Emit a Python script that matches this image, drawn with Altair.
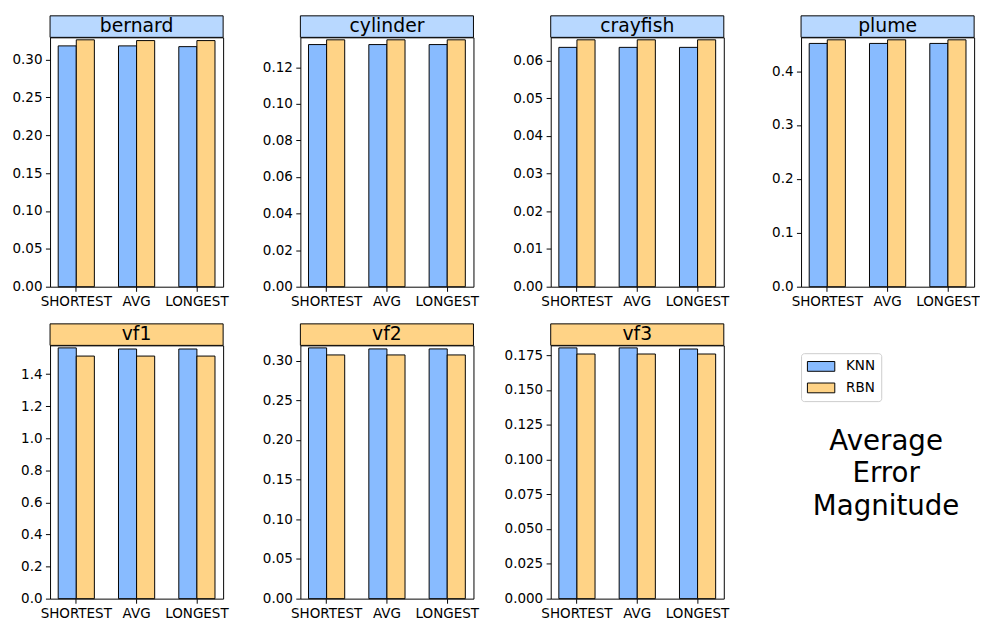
import altair as alt
import pandas as pd
import numpy as np

categories = ["SHORTEST", "AVG", "LONGEST"]
series_names = ["KNN", "RBN"]
datasets = ["bernard", "cylinder", "crayfish", "plume", "vf1", "vf2", "vf3"]
knn_values = [
    [0.318, 0.318, 0.317],
    [0.1324, 0.1324, 0.1324],
    [0.0635, 0.0635, 0.0635],
    [0.4514, 0.4514, 0.4514],
    [1.564, 1.557, 1.557],
    [0.3161, 0.3148, 0.3148],
    [0.1802, 0.1802, 0.1794],
]
rbn_values = [
    [0.326, 0.325, 0.325],
    [0.1350, 0.1350, 0.1350],
    [0.0655, 0.0655, 0.0655],
    [0.4581, 0.4581, 0.4581],
    [1.513, 1.513, 1.513],
    [0.3072, 0.3072, 0.3072],
    [0.1758, 0.1758, 0.1758],
]
tick_steps = [0.05, 0.02, 0.01, 0.1, 0.2, 0.05, 0.025]
tick_formats = [".2f", ".2f", ".2f", ".1f", ".1f", ".2f", ".3f"]
header_colors = ["#b8d8ff"] * 4 + ["#ffd386"] * 3
bar_colors = ["#88bbff", "#ffd386"]
side_text = "Average\nError\nMagnitude"

W, HB = 177, 22
H_TOP, H_BOTTOM = 255, 259

legend = alt.Legend(
    title=None, orient="none", legendX=768, legendY=323,
    symbolType="M-1,-0.714L3,-0.714L3,0.714L-1,0.714Z", symbolSize=196,
    symbolStrokeColor="black", symbolStrokeWidth=1,
    labelFontSize=13.8, labelOffset=25, labelColor="black", labelFont="DejaVu Sans",
    rowPadding=7, padding=6, fillColor="white", strokeColor="#cccccc",
    cornerRadius=3,
)


def panel(i, first_col, height):
    name = datasets[i]
    rows = []
    for j, c in enumerate(categories):
        rows.append({"category": c, "series": "KNN", "value": knn_values[i][j]})
        rows.append({"category": c, "series": "RBN", "value": rbn_values[i][j]})
    df = pd.DataFrame(rows)
    top = max(max(knn_values[i]), max(rbn_values[i])) * 1.01
    ticks = [float(v) for v in np.round(np.arange(0, top, tick_steps[i]), 6)]
    ext = 42 if first_col else 48
    bars = alt.Chart(df).mark_bar(stroke="black", strokeWidth=1).encode(
        x=alt.X("category:N", sort=categories,
                scale=alt.Scale(paddingInner=0.4, paddingOuter=0.135),
                axis=alt.Axis(title=None, labelAngle=0, labelOverlap=False,
                              minExtent=21, maxExtent=21)),
        xOffset=alt.XOffset("series:N", sort=series_names,
                            scale=alt.Scale(paddingInner=0, paddingOuter=0)),
        y=alt.Y("value:Q", scale=alt.Scale(domain=[0, top], nice=False, zero=True),
                axis=alt.Axis(title=None, values=ticks, format=tick_formats[i],
                              minExtent=ext, maxExtent=ext)),
        color=alt.Color("series:N",
                        scale=alt.Scale(domain=series_names, range=bar_colors),
                        legend=legend),
    )
    hdr = alt.Chart(alt.Data(values=[{"name": name}]))
    box = hdr.mark_rect(fill=header_colors[i], stroke="black", strokeWidth=1).encode(
        x=alt.value(0), x2=alt.value(W), y=alt.value(-HB), y2=alt.value(0))
    txt = hdr.mark_text(fontSize=19.2, baseline="middle", align="center",
                        color="black", font="DejaVu Sans").encode(
        x=alt.value(W / 2), y=alt.value(-HB / 2), text="name:N")
    return alt.layer(bars, box, txt).properties(width=W, height=height)


side = alt.Chart(alt.Data(values=[{"t": side_text}])).mark_text(
    fontSize=28.3, lineBreak="\n", lineHeight=33.5, align="center",
    baseline="middle", color="black", font="DejaVu Sans",
).encode(
    x=alt.value(136), y=alt.value(98.6), text="t:N"
).properties(width=W, height=H_BOTTOM, view=alt.ViewBackground(strokeOpacity=0))

row1 = alt.hconcat(*[panel(i, i == 0, H_TOP) for i in range(4)], spacing=24).resolve_scale(
    x="independent", y="independent")
row2 = alt.hconcat(*[panel(i, i == 4, H_BOTTOM) for i in range(4, 7)], side,
                   spacing=24).resolve_scale(x="independent", y="independent")

chart = alt.vconcat(row1, row2, spacing=14).resolve_scale(
    x="independent", y="independent"
).properties(
    padding={"left": 0, "top": 0, "right": 0, "bottom": 0},
).configure(
    font="DejaVu Sans"
).configure_view(
    stroke="black", strokeWidth=1
).configure_axis(
    labelFont="DejaVu Sans", labelFontSize=13.8, labelColor="black",
    tickColor="black", tickSize=4.7, tickWidth=1, labelPadding=3.5,
    domain=False, grid=False,
)

chart.save("out.html", embed_options={"renderer": "svg", "actions": False})
